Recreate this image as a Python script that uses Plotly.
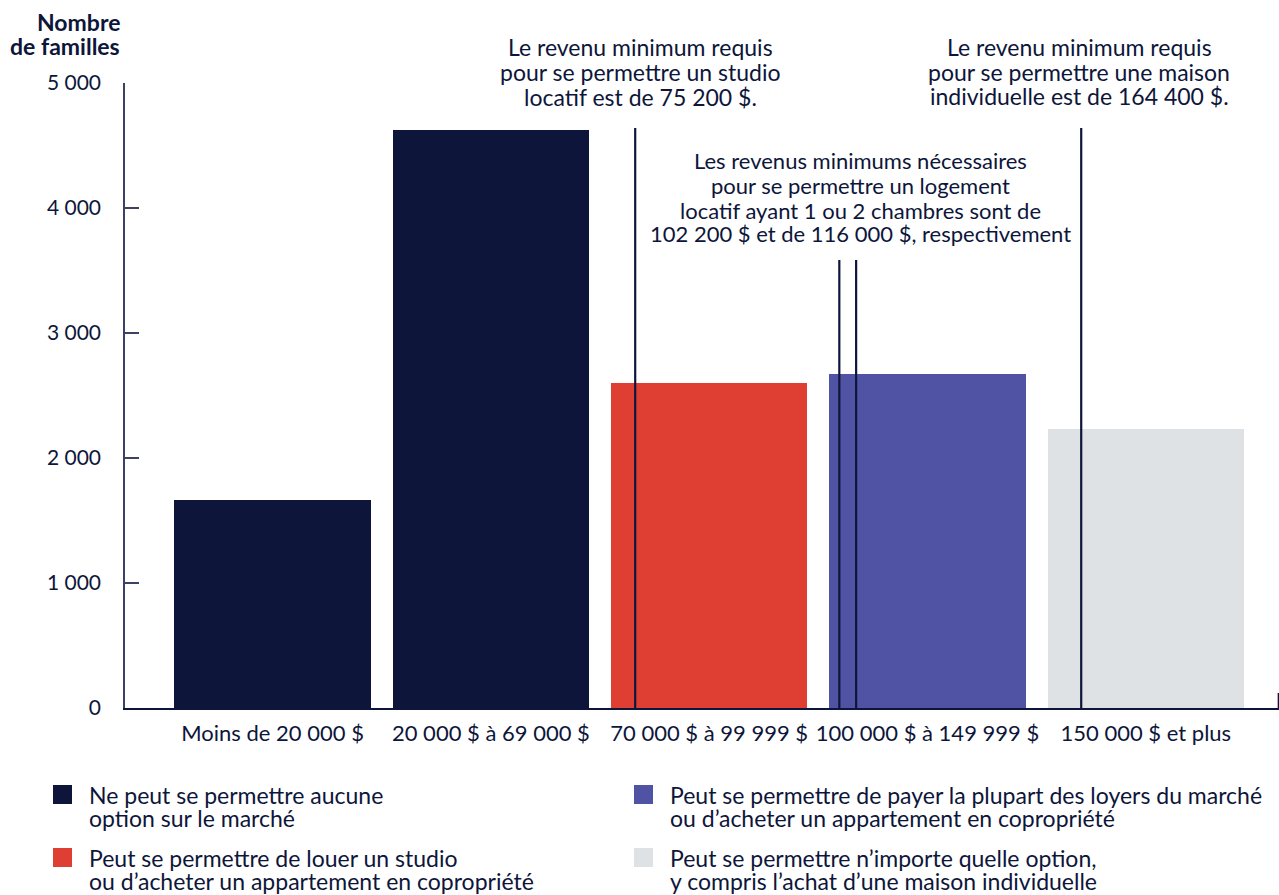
import plotly.graph_objects as go

# ---------------- data ----------------
categories = ["Moins de 20 000 $", "20 000 $ à 69 000 $", "70 000 $ à 99 999 $",
              "100 000 $ à 149 999 $", "150 000 $ et plus"]
families = [1665, 4625, 2600, 2670, 2230]
bar_group = [0, 0, 1, 2, 3]  # affordability group of each income bracket

group_labels = [
    ["Ne peut se permettre aucune", "option sur le marché"],
    ["Peut se permettre de louer un studio", "ou d’acheter un appartement en copropriété"],
    ["Peut se permettre de payer la plupart des loyers du marché",
     "ou d’acheter un appartement en copropriété"],
    ["Peut se permettre n’importe quelle option,",
     "y compris l’achat d’une maison individuelle"],
]
group_colors = ["#0d163a", "#df3f33", "#5053a4", "#dfe2e5"]

# income thresholds, expressed on the category axis (0 = first bracket)
threshold_pos = [1.661, 2.596, 2.673, 3.704]
threshold_top = [4640, 3585, 3585, 4640]

y_ticks = [0, 1000, 2000, 3000, 4000, 5000]
y_ticklabels = ["0", "1 000", "2 000", "3 000", "4 000", "5 000"]

notes = [
    ["Le revenu minimum requis", "pour se permettre un studio",
     "locatif est de 75 200 $."],
    ["Les revenus minimums nécessaires", "pour se permettre un logement",
     "locatif ayant 1 ou 2 chambres sont de",
     "102 200 $ et de 116 000 $, respectivement"],
    ["Le revenu minimum requis", "pour se permettre une maison",
     "individuelle est de 164 400 $."],
]
note_x = [1.684, 2.692, 3.695]

# ---------------- figure ----------------
FONT = "Lato"
TXT = "#0d163a"
AX = "#3c4263"
W, H = 1279, 895
L, R, T, B = 125, 0, 83, 187
PW, PH = W - L - R, H - T - B

def px(xp):
    return (xp - L) / PW

def py(yp):
    return (H - B - yp) / PH

fig = go.Figure()
for g in range(len(group_labels)):
    xs = [i for i, bg in enumerate(bar_group) if bg == g]
    ys = [families[i] for i in xs]
    fig.add_trace(go.Bar(x=xs, y=ys, width=0.9, marker_color=group_colors[g],
                         marker_line_width=0, showlegend=False,
                         hovertext=[categories[i] for i in xs]))

for xv, top in zip(threshold_pos, threshold_top):
    fig.add_shape(type="line", xref="x", yref="y", x0=xv, x1=xv, y0=0, y1=top,
                  line=dict(color=TXT, width=2.2), layer="above")

# right end tick of x axis
fig.add_shape(type="line", xref="paper", yref="y", ysizemode="pixel", yanchor=0,
              x0=0.9995, x1=0.9995, y0=0, y1=15, line=dict(color=TXT, width=1.5))

note_line_y = [[47, 72, 97], [160, 185, 210, 233], [47, 72, 96]]
note_size = [23, 22, 23]
for lines, xv, ys, fs in zip(notes, note_x, note_line_y, note_size):
    for line, yl in zip(lines, ys):
        fig.add_annotation(x=xv, y=py(yl), xref="x", yref="paper", text=line,
                           showarrow=False, xanchor="center", yanchor="middle",
                           font=dict(family=FONT, size=fs, color=TXT))

# y axis title
for line, yl in zip(["<b>Nombre</b>", "<b>de familles</b>"], [22, 46]):
    fig.add_annotation(x=px(122), y=py(yl), xref="paper", yref="paper",
                       text=line, showarrow=False, xanchor="right", yanchor="middle",
                       font=dict(family=FONT, size=23, color=TXT))

# custom legend
leg_pos = [(53, 785), (53, 848), (634, 785), (634, 848)]
for g, (lx, ly) in enumerate(leg_pos):
    fig.add_shape(type="rect", xref="paper", yref="paper",
                  x0=px(lx), x1=px(lx + 19), y0=py(ly), y1=py(ly + 19),
                  fillcolor=group_colors[g], line_width=0)
    for k, line in enumerate(group_labels[g]):
        fig.add_annotation(x=px(lx + 34), y=py(ly + 10 + 23 * k), xref="paper", yref="paper",
                           text=line, showarrow=False, xanchor="left", yanchor="middle",
                           font=dict(family=FONT, size=23, color=TXT))

fig.update_layout(
    width=W, height=H,
    margin=dict(l=L, r=R, t=T, b=B, pad=0),
    paper_bgcolor="white", plot_bgcolor="white",
    bargap=0, showlegend=False,
    font=dict(family=FONT, size=22, color=TXT),
    xaxis=dict(range=[-0.676, 4.61], tickmode="array", tickvals=list(range(len(categories))),
               ticktext=categories, ticks="", showgrid=False, zeroline=False,
               showline=True, linecolor=TXT, linewidth=2,
               tickfont=dict(family=FONT, size=22, color=TXT), ticklabelstandoff=5),
    yaxis=dict(range=[0, 5000], tickmode="array", tickvals=y_ticks, ticktext=y_ticklabels,
               ticks="inside", ticklen=14, tickwidth=1.5, tickcolor=AX,
               showgrid=False, zeroline=False, showline=True, linecolor=AX,
               linewidth=1.5, tickfont=dict(family=FONT, size=21, color=TXT),
               ticklabelstandoff=18),
)

fig.write_html("out.html", config={"displayModeBar": False},
               post_script="document.body.style.margin='0';")
